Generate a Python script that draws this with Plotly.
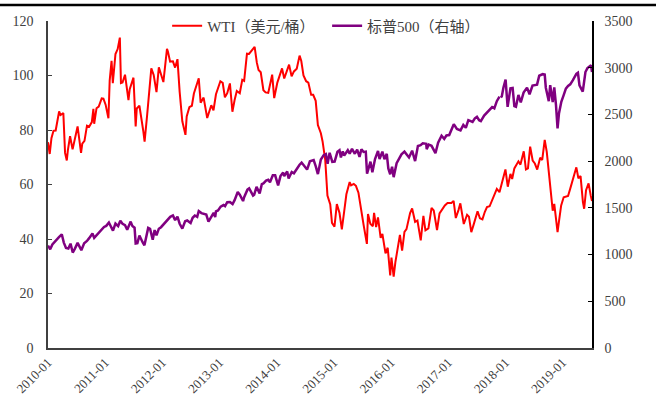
import plotly.graph_objects as go

# ---------------- data ----------------
wti_dates = [
 "2010-01-25","2010-02-05","2010-02-16","2010-03-01","2010-03-15","2010-04-01","2010-04-06","2010-04-15",
 "2010-05-03","2010-05-14","2010-05-25","2010-06-01","2010-06-15","2010-07-01","2010-07-15","2010-08-02",
 "2010-08-16","2010-08-24","2010-09-01","2010-09-15","2010-10-01","2010-10-15","2010-11-01","2010-11-11",
 "2010-11-16","2010-12-01","2010-12-15","2011-01-03","2011-01-14","2011-01-28","2011-02-15","2011-02-23",
 "2011-03-07","2011-03-15","2011-04-01","2011-04-15","2011-04-29","2011-05-06","2011-05-16","2011-06-01",
 "2011-06-23","2011-07-01","2011-07-25","2011-08-08","2011-08-15","2011-09-01","2011-09-26","2011-10-04",
 "2011-10-20","2011-11-01","2011-11-16","2011-12-01","2011-12-19","2012-01-03","2012-01-17","2012-02-01",
 "2012-02-24","2012-03-01","2012-03-15","2012-04-02","2012-04-16","2012-05-01","2012-05-15","2012-06-01",
 "2012-06-21","2012-06-29","2012-07-16","2012-08-01","2012-08-14","2012-09-14","2012-09-26","2012-10-15",
 "2012-11-07","2012-11-20","2012-12-03","2012-12-17","2013-01-02","2013-01-30","2013-02-14","2013-02-28",
 "2013-03-15","2013-04-01","2013-04-17","2013-05-01","2013-05-15","2013-06-03","2013-06-19","2013-07-01",
 "2013-07-19","2013-08-01","2013-08-28","2013-09-06","2013-09-20","2013-10-01","2013-10-15","2013-11-01",
 "2013-11-15","2013-12-02","2013-12-27","2014-01-09","2014-01-29","2014-02-14","2014-02-28","2014-03-14",
 "2014-03-31","2014-04-14","2014-04-30","2014-05-15","2014-06-02","2014-06-20","2014-07-01","2014-07-15",
 "2014-08-01","2014-08-15","2014-09-02","2014-09-15","2014-10-01","2014-10-15","2014-11-03","2014-11-14",
 "2014-12-01","2014-12-15","2015-01-02","2015-01-13","2015-01-29","2015-02-13","2015-03-02","2015-03-17",
 "2015-04-01","2015-04-15","2015-05-06","2015-05-15","2015-06-01","2015-06-15","2015-07-01","2015-07-15",
 "2015-08-03","2015-08-24","2015-08-31","2015-09-15","2015-10-01","2015-10-09","2015-10-22","2015-11-03",
 "2015-11-20","2015-12-01","2015-12-21","2016-01-04","2016-01-20","2016-01-28","2016-02-11","2016-02-22",
 "2016-03-08","2016-03-22","2016-04-05","2016-04-20","2016-05-03","2016-05-26","2016-06-08","2016-06-27",
 "2016-07-12","2016-08-02","2016-08-19","2016-09-01","2016-09-20","2016-10-10","2016-10-24","2016-11-14",
 "2016-11-30","2016-12-15","2017-01-03","2017-01-20","2017-02-14","2017-02-28","2017-03-14","2017-03-31",
 "2017-04-12","2017-05-04","2017-05-25","2017-06-06","2017-06-21","2017-07-05","2017-07-31","2017-08-15",
 "2017-08-31","2017-09-15","2017-09-29","2017-10-16","2017-11-01","2017-11-14","2017-12-01","2017-12-18",
 "2018-01-02","2018-01-25","2018-02-09","2018-02-26","2018-03-09","2018-03-23","2018-04-18","2018-05-01",
 "2018-05-22","2018-06-05","2018-06-18","2018-07-02","2018-07-18","2018-08-01","2018-08-16","2018-09-04",
 "2018-09-17","2018-10-03","2018-10-16","2018-11-01","2018-11-15","2018-11-23","2018-12-03","2018-12-24",
 "2019-01-02","2019-01-16","2019-02-01","2019-02-15","2019-03-01","2019-03-15","2019-04-01","2019-04-23",
 "2019-05-06","2019-05-20","2019-06-04","2019-06-12","2019-06-24","2019-07-10","2019-07-24","2019-08-01",
]
wti_values = [
 75.5, 71.2, 77.0, 79.7, 79.8, 84.9, 86.8, 85.5,
 86.2, 71.6, 68.8, 72.6, 77.7, 72.9, 76.6, 81.3,
 75.2, 71.6, 75.0, 76.0, 81.6, 81.2, 82.9, 87.8,
 82.3, 88.0, 88.6, 91.6, 91.5, 89.3, 84.3, 98.1,
 105.4, 97.2, 107.9, 109.7, 113.9, 97.2, 97.4, 100.3,
 91.0, 95.0, 99.2, 81.3, 87.9, 88.9, 79.5, 75.7,
 85.3, 92.2, 102.6, 100.2, 93.9, 103.0, 100.7, 97.6,
 109.8, 108.8, 105.1, 105.2, 102.9, 106.0, 94.0, 83.2,
 78.2, 85.0, 88.4, 88.9, 93.4, 99.0, 90.0, 91.9,
 84.4, 86.8, 89.1, 87.2, 93.1, 97.9, 97.3, 92.0,
 93.5, 97.1, 86.7, 91.0, 94.3, 93.5, 98.4, 98.0,
 108.0, 107.9, 110.1, 110.5, 104.7, 102.0, 101.2, 94.6,
 93.8, 93.6, 100.3, 91.7, 97.4, 100.3, 102.6, 98.9,
 101.6, 104.0, 99.7, 101.5, 102.5, 107.3, 105.3, 100.0,
 97.9, 97.4, 92.9, 92.9, 90.7, 81.8, 78.8, 75.8,
 69.0, 55.9, 52.7, 45.9, 44.5, 52.8, 49.6, 43.5,
 50.1, 56.4, 60.9, 59.7, 60.2, 59.5, 57.0, 51.4,
 45.2, 38.2, 49.2, 45.6, 44.7, 49.6, 44.4, 47.9,
 40.4, 41.9, 34.7, 36.8, 26.6, 33.2, 26.2, 31.5,
 36.5, 41.5, 35.7, 42.6, 43.6, 49.5, 51.2, 46.3,
 46.8, 39.5, 48.5, 43.2, 43.9, 51.4, 50.5, 43.3,
 49.4, 50.9, 52.3, 53.2, 53.2, 54.0, 47.7, 50.6,
 53.1, 45.5, 48.9, 48.2, 42.5, 45.1, 50.2, 47.6,
 47.2, 49.9, 51.7, 52.0, 54.3, 55.7, 58.4, 57.2,
 60.4, 65.5, 59.2, 63.9, 62.0, 65.9, 68.5, 67.3,
 72.2, 65.5, 65.9, 73.9, 68.8, 67.7, 65.5, 69.8,
 69.0, 76.4, 72.0, 63.7, 56.5, 50.4, 52.9, 42.5,
 46.5, 52.3, 55.3, 55.6, 55.8, 58.5, 61.6, 66.3,
 62.3, 63.1, 53.5, 51.1, 57.9, 60.4, 55.9, 53.9,
]

spx_dates = [
 "2010-01-25","2010-02-08","2010-02-22","2010-03-08","2010-03-22","2010-04-05","2010-04-23","2010-05-06",
 "2010-05-20","2010-06-04","2010-06-18","2010-07-02","2010-07-16","2010-08-02","2010-08-16","2010-08-26",
 "2010-09-13","2010-10-01","2010-10-15","2010-11-05","2010-11-16","2010-12-01","2010-12-15","2011-01-03",
 "2011-01-18","2011-02-01","2011-02-18","2011-03-01","2011-03-16","2011-04-01","2011-04-18","2011-05-02",
 "2011-05-16","2011-06-01","2011-06-15","2011-07-07","2011-07-18","2011-08-01","2011-08-08","2011-08-19",
 "2011-09-01","2011-09-22","2011-10-03","2011-10-27","2011-11-08","2011-11-25","2011-12-07","2011-12-19",
 "2012-01-03","2012-01-17","2012-02-01","2012-02-15","2012-03-01","2012-03-16","2012-04-02","2012-04-16",
 "2012-05-01","2012-05-15","2012-06-01","2012-06-19","2012-07-02","2012-07-24","2012-08-06","2012-08-20",
 "2012-09-04","2012-09-14","2012-10-01","2012-10-15","2012-11-01","2012-11-15","2012-12-03","2012-12-18",
 "2012-12-28","2013-01-02","2013-01-15","2013-02-01","2013-02-19","2013-03-01","2013-03-15","2013-04-01",
 "2013-04-18","2013-05-01","2013-05-21","2013-06-03","2013-06-24","2013-07-01","2013-07-22","2013-08-02",
 "2013-08-27","2013-09-03","2013-09-18","2013-10-08","2013-10-22","2013-11-01","2013-11-18","2013-12-02",
 "2013-12-13","2013-12-31","2014-01-15","2014-02-03","2014-02-18","2014-03-07","2014-03-14","2014-04-02",
 "2014-04-11","2014-05-01","2014-05-15","2014-06-02","2014-06-20","2014-07-03","2014-07-31","2014-08-07",
 "2014-08-25","2014-09-18","2014-10-01","2014-10-15","2014-11-03","2014-11-21","2014-12-05","2014-12-16",
 "2014-12-29","2015-01-15","2015-01-30","2015-02-17","2015-03-02","2015-03-11","2015-03-23","2015-04-01",
 "2015-04-24","2015-05-06","2015-05-21","2015-06-08","2015-06-23","2015-07-08","2015-07-20","2015-08-03",
 "2015-08-17","2015-08-25","2015-09-16","2015-09-28","2015-10-15","2015-11-03","2015-11-13","2015-12-01",
 "2015-12-14","2015-12-29","2016-01-08","2016-01-20","2016-02-01","2016-02-11","2016-03-01","2016-03-15",
 "2016-04-01","2016-04-20","2016-05-02","2016-05-19","2016-06-08","2016-06-27","2016-07-15","2016-08-01",
 "2016-08-15","2016-09-06","2016-09-09","2016-09-22","2016-10-10","2016-11-04","2016-11-21","2016-12-13",
 "2016-12-30","2017-01-13","2017-01-31","2017-02-15","2017-03-01","2017-03-21","2017-04-13","2017-05-01",
 "2017-05-17","2017-06-02","2017-06-15","2017-06-29","2017-07-14","2017-07-27","2017-08-10","2017-08-21",
 "2017-09-11","2017-09-29","2017-10-16","2017-11-01","2017-11-15","2017-12-01","2017-12-18","2017-12-22",
 "2017-12-27","2018-01-02","2018-01-12","2018-01-26","2018-02-08","2018-02-26","2018-03-12","2018-03-23",
 "2018-04-02","2018-04-18","2018-05-03","2018-05-21","2018-06-12","2018-06-28","2018-07-17","2018-08-01",
 "2018-08-15","2018-08-29","2018-09-20","2018-10-03","2018-10-10","2018-10-29","2018-11-07","2018-11-23",
 "2018-12-03","2018-12-14","2018-12-24","2019-01-02","2019-01-17","2019-02-01","2019-02-15","2019-03-01",
 "2019-03-15","2019-04-01","2019-04-23","2019-05-03","2019-05-13","2019-06-03","2019-06-20","2019-07-03",
 "2019-07-15","2019-07-26","2019-08-01",
]
spx_values = [
 1096, 1056, 1108, 1138, 1166, 1187, 1217, 1128,
 1071, 1064, 1117, 1022, 1064, 1125, 1079, 1047,
 1121, 1146, 1176, 1225, 1178, 1206, 1236, 1271,
 1295, 1307, 1343, 1306, 1256, 1332, 1305, 1361,
 1329, 1315, 1266, 1353, 1305, 1287, 1119, 1123,
 1204, 1130, 1099, 1285, 1275, 1159, 1262, 1205,
 1277, 1293, 1324, 1343, 1374, 1404, 1419, 1369,
 1405, 1330, 1278, 1357, 1365, 1338, 1394, 1418,
 1404, 1466, 1444, 1440, 1428, 1353, 1409, 1447,
 1402, 1462, 1472, 1513, 1530, 1518, 1561, 1562,
 1541, 1582, 1669, 1640, 1573, 1614, 1695, 1709,
 1630, 1639, 1725, 1655, 1754, 1762, 1791, 1800,
 1775, 1848, 1848, 1741, 1840, 1878, 1841, 1890,
 1815, 1883, 1870, 1924, 1962, 1985, 1931, 1910,
 1998, 2011, 1946, 1862, 2017, 2064, 2075, 1972,
 2090, 1992, 1995, 2100, 2117, 2040, 2104, 2060,
 2117, 2080, 2131, 2079, 2124, 2046, 2128, 2098,
 2102, 1867, 1995, 1881, 2023, 2109, 2023, 2102,
 2021, 2078, 1922, 1859, 1940, 1829, 1978, 2015,
 2073, 2102, 2081, 2040, 2112, 2001, 2162, 2171,
 2191, 2186, 2128, 2177, 2164, 2085, 2198, 2272,
 2239, 2275, 2279, 2349, 2396, 2344, 2329, 2388,
 2357, 2439, 2433, 2419, 2459, 2475, 2438, 2428,
 2488, 2519, 2557, 2579, 2565, 2642, 2690, None,
 2682, 2695, 2786, 2873, 2581, 2780, 2783, 2588,
 2582, 2708, 2630, 2733, 2787, 2716, 2809, 2813,
 2819, 2914, 2931, 2926, 2786, 2641, 2814, 2633,
 2790, 2600, 2351, 2510, 2636, 2707, 2776, 2804,
 2822, 2867, 2934, 2946, 2812, 2744, 2954, 2996,
 3014, 3026, 2953,
]

x_start = "2010-01-25"
x_end = "2019-08-01"

# ---------------- figure ----------------
FONT = "Liberation Serif, Times New Roman, Noto Sans CJK SC, serif"

fig = go.Figure()
fig.add_trace(go.Scatter(x=wti_dates, y=wti_values, name="WTI（美元/桶）\u2002",
                         mode="lines", line=dict(color="#FF0000", width=2)))
fig.add_trace(go.Scatter(x=spx_dates, y=spx_values, name="标普500（右轴）",
                         mode="lines", line=dict(color="#800080", width=2.5),
                         yaxis="y2", connectgaps=False))

fig.update_layout(
    width=656, height=397,
    margin=dict(l=48, r=64, t=21, b=49, autoexpand=False),
    paper_bgcolor="white", plot_bgcolor="white",
    font=dict(family=FONT, size=14, color="#404040"),
    showlegend=True,
    legend=dict(orientation="h", x=0.219, xanchor="left", y=0.985, yanchor="middle",
                bgcolor="rgba(0,0,0,0)", font=dict(size=15, color="#404040"),
                itemwidth=30, tracegroupgap=0),
    xaxis=dict(range=[x_start, x_end], type="date", tick0=x_start, dtick="M12",
               tickformat="%Y-%m", tickangle=-45, showgrid=False, zeroline=False,
               showline=True, linecolor="#404040", linewidth=1.5, ticks="",
               automargin=False, tickfont=dict(size=13, color="#404040")),
    yaxis=dict(range=[0, 120], dtick=20, showgrid=False, zeroline=False,
               showline=True, linecolor="#404040", linewidth=1.5,
               ticks="inside", ticklen=4, tickcolor="#404040", automargin=False,
               ticklabelstandoff=10, tickfont=dict(size=14, color="#404040")),
    yaxis2=dict(range=[0, 3500], dtick=500, overlaying="y", side="right",
                showgrid=False, zeroline=False, showline=True, automargin=False,
                linecolor="#000000", linewidth=1.5, ticks="inside", ticklen=4,
                tickcolor="#000000", ticklabelstandoff=8,
                tickfont=dict(size=14, color="#404040")),
)

# thin black frame line across the very top of the picture
fig.add_shape(type="line", xref="paper", yref="paper", layer="above",
              x0=-48/544, x1=(656-48)/544, y0=(348-5)/327, y1=(348-5)/327,
              line=dict(color="black", width=2.5))

# remove the browser's default page margin so the 656x397 figure fills the window
fig.write_html("out.html", config={"displayModeBar": False},
               post_script="document.body.style.margin='0px';document.body.style.overflow='hidden';")
